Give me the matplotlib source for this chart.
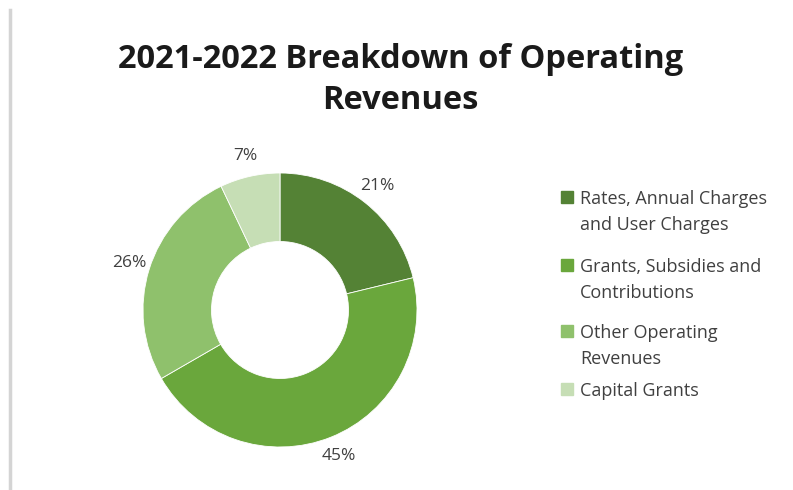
import matplotlib.pyplot as plt
from matplotlib.lines import Line2D

categories = ['Rates, Annual Charges\nand User Charges',
              'Grants, Subsidies and\nContributions',
              'Other Operating\nRevenues',
              'Capital Grants']
shares = [21, 45, 26, 7]
colors = ['#548235', '#6aa73c', '#8fc16c', '#c6deb5']

text_color = '#404040'
plt.rcParams['font.family'] = ['Open Sans', 'DejaVu Sans']

W, H = 793, 490
fig = plt.figure(figsize=(W / 100, H / 100), dpi=100)

# pie axes: centre at (280, 310) px, ring radius about 137 px
r_px = 137
half = r_px * 1.25
ax = fig.add_axes([(280 - half) / W, (H - 310 - half) / H, 2 * half / W, 2 * half / H])
wedges, texts = ax.pie(shares, colors=colors, startangle=90, counterclock=False,
                       labels=[f'{s}%' for s in shares], labeldistance=1.15,
                       wedgeprops=dict(width=0.5, edgecolor='white', linewidth=0.6),
                       textprops=dict(color=text_color, fontsize=12.5))
for t in texts:
    t.set_horizontalalignment('center')
    t.set_verticalalignment('center')
ax.set_xlim(-1.25, 1.25)
ax.set_ylim(-1.25, 1.25)
ax.set_aspect('equal')
ax.axis('off')

fig.text(0.505, 1 - 80 / H, '2021-2022 Breakdown of Operating\nRevenues', ha='center', va='center',
         fontsize=23.5, fontweight='bold', color='#1a1a1a', linespacing=1.3)

# legend drawn by hand so each square lines up with the first text line
entry_top = [197, 265, 331, 389]   # px from top, centre of first line
line_gap = 26
for y, label, c in zip(entry_top, categories, colors):
    fig.add_artist(Line2D([567 / W], [1 - y / H], marker='s', markersize=8.5,
                          color=c, linestyle=''))
    for i, line in enumerate(label.split('\n')):
        fig.text(580 / W, 1 - (y + 6.5 + i * line_gap) / H, line, ha='left', va='baseline',
                 fontsize=13, color=text_color)

# thin grey frame edge on the left
fig.add_artist(Line2D([10 / W, 10 / W], [0, 1 - 10 / H], color='#d4d4d4', linewidth=2.5))

fig.savefig('out.png', dpi=100)
